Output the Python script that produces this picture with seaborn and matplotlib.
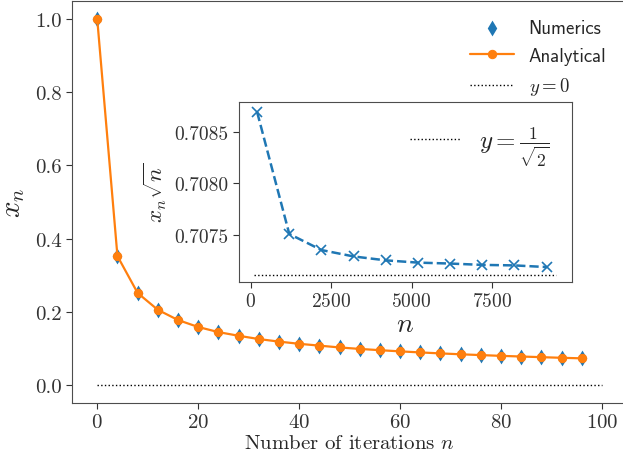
import numpy as np
import seaborn as sns
import matplotlib.pyplot as plt

# main panel: x_n every 4 iterations
n_iter = [0, 4, 8, 12, 16, 20, 24, 28, 32, 36, 40, 44, 48,
          52, 56, 60, 64, 68, 72, 76, 80, 84, 88, 92, 96]
x_numerics = [1.0, 0.352, 0.251, 0.205, 0.177, 0.158, 0.144, 0.134, 0.125,
              0.118, 0.112, 0.107, 0.102, 0.098, 0.0945, 0.0913, 0.0884,
              0.0857, 0.0833, 0.0811, 0.079, 0.0772, 0.0754, 0.0737, 0.0722]
x_analytical = [1.0, 0.352, 0.251, 0.205, 0.177, 0.158, 0.144, 0.134, 0.125,
                0.118, 0.112, 0.107, 0.102, 0.098, 0.0945, 0.0913, 0.0884,
                0.0857, 0.0833, 0.0811, 0.079, 0.0772, 0.0754, 0.0737, 0.0722]
zero_x = [0, 100]
zero_y = [0, 0]

# inset: x_n * sqrt(n) for large n
n_large = [200, 1200, 2200, 3200, 4200, 5200, 6200, 7200, 8200, 9200]
xn_sqrtn = [0.70869, 0.707507, 0.707351, 0.707289, 0.707251,
            0.707229, 0.70722, 0.707207, 0.707202, 0.707186]
limit_x = [100, 9500]
limit_y = [1 / np.sqrt(2), 1 / np.sqrt(2)]

blue = '#1f77b4'
orange = '#ff7f0e'

sns.set_style('ticks', {'axes.edgecolor': '.3', 'xtick.color': '.2', 'ytick.color': '.2'})
plt.rcParams['font.family'] = 'serif'
plt.rcParams['font.serif'] = ['cmr10']
plt.rcParams['mathtext.fontset'] = 'cm'
plt.rcParams['axes.formatter.use_mathtext'] = True
plt.rcParams['axes.unicode_minus'] = False

fig = plt.figure(figsize=(6.23, 4.64), dpi=100)
ax = fig.add_axes([0.1156, 0.1293, 0.8912, 0.8664])

sns.scatterplot(x=n_iter, y=x_numerics, marker='d', s=65, color=blue,
                linewidth=0, label='Numerics', ax=ax, zorder=2)
sns.lineplot(x=n_iter, y=x_analytical, color=orange, marker='o', markersize=6,
             markeredgecolor=orange, linewidth=1.6, label='Analytical', ax=ax, zorder=3)
sns.lineplot(x=zero_x, y=zero_y, color='k', linestyle=':', linewidth=1,
             label='$y=0$', ax=ax)

ax.set_xlim(-5, 105)
ax.set_ylim(-0.05, 1.05)
ax.set_xticks([0, 20, 40, 60, 80, 100])
ax.set_yticks([0.0, 0.2, 0.4, 0.6, 0.8, 1.0])
ax.set_yticklabels(['0.0', '0.2', '0.4', '0.6', '0.8', '1.0'])
ax.tick_params(labelsize=15, length=4)
ax.set_xlabel('Number of iterations $n$', fontsize=15, labelpad=2)
ax.set_ylabel('$x_n$', fontsize=21, labelpad=6)
ax.legend(loc='upper right', bbox_to_anchor=(0.985, 0.974), bbox_transform=fig.transFigure,
          frameon=False, prop={'family': 'cmss10', 'size': 13.5},
          labelspacing=0.55, handlelength=2.3, borderaxespad=0)

# inset
axins = fig.add_axes([0.3836, 0.3901, 0.5341, 0.3886])
sns.lineplot(x=n_large, y=xn_sqrtn, color=blue, marker='x', markersize=7,
             markeredgecolor=blue, markeredgewidth=1.2, linestyle='--',
             linewidth=1.8, ax=axins)
axins.plot(limit_x, limit_y, color='k', linestyle=':', linewidth=1,
           label=r'$y=\frac{1}{\sqrt{2}}$')
axins.set_xlim(-364, 9981)
axins.set_ylim(0.707041, 0.708791)
axins.set_xticks([0, 2500, 5000, 7500])
axins.set_yticks([0.7075, 0.7080, 0.7085])
axins.set_yticklabels(['0.7075', '0.7080', '0.7085'])
axins.tick_params(labelsize=14, length=4)
axins.set_xlabel('$n$', fontsize=20, labelpad=0)
axins.set_ylabel(r'$x_n\sqrt{n}$', fontsize=16.5, labelpad=4)
axins.legend(loc='upper right', frameon=False, fontsize=18, handlelength=2.0,
             handletextpad=0.75, borderaxespad=0.5)

fig.savefig('out.png', dpi=100)
